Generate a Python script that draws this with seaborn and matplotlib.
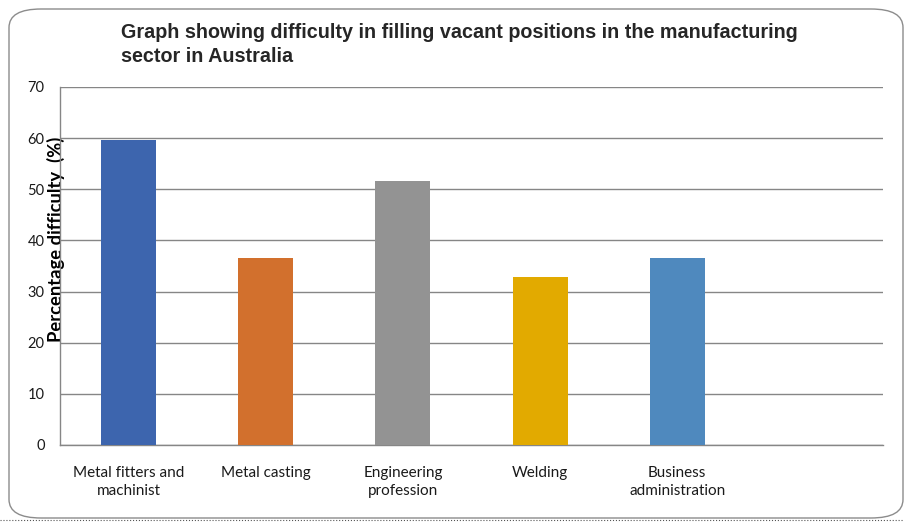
import matplotlib
matplotlib.use('Agg')
import matplotlib.pyplot as plt
import pandas as pd
import seaborn as sns
from matplotlib.patches import FancyBboxPatch
from matplotlib.lines import Line2D

categories = ['Metal fitters and\nmachinist', 'Metal casting', 'Engineering\nprofession',
              'Welding', 'Business\nadministration', '']
values = [59.7, 36.6, 51.6, 32.9, 36.6, float('nan')]
colors = ['#3D65AE', '#D2702D', '#939393', '#E2AA00', '#4F89BE', '#FFFFFF']
yticks = [0, 10, 20, 30, 40, 50, 60, 70]

df = pd.DataFrame({'Categoria': categories, 'Valor': values})

sns.set_style('white')
plt.rcParams['font.family'] = ['Lato', 'DejaVu Sans']

fig = plt.figure(figsize=(9.17, 5.29), dpi=100)
ax = fig.add_axes([60 / 917, 1 - 445 / 529, 823 / 917, 358 / 529])

sns.barplot(data=df, x='Categoria', y='Valor', hue='Categoria', palette=colors,
            order=categories, width=0.4, saturation=1, linewidth=0,
            legend=False, ax=ax, zorder=3)

ax.set_ylim(0, 70)
ax.set_yticks(yticks)
ax.set_xlim(-0.5, len(categories) - 0.5)
ax.grid(axis='y', color='#868686', linewidth=1, zorder=0)
ax.grid(axis='x', visible=False)
for s in ['top', 'right']:
    ax.spines[s].set_visible(False)
for s in ['left', 'bottom']:
    ax.spines[s].set_color('#868686')
    ax.spines[s].set_linewidth(1)
ax.tick_params(axis='both', length=0, colors='#1a1a1a')
ax.tick_params(axis='y', pad=11, labelsize=10.5)
ax.tick_params(axis='x', pad=15, labelsize=11)
for lbl in ax.get_xticklabels():
    lbl.set_linespacing(1.35)
ax.set_xlabel('')
ax.set_ylabel('Percentage difficulty  (%)', fontsize=13.2, fontweight='bold', color='black')
ax.yaxis.set_label_coords(0.006, 0.573)

fig.text(121 / 917, 1 - 23 / 529,
         'Graph showing difficulty in filling vacant positions in the manufacturing\nsector in Australia',
         ha='left', va='top', fontsize=14.2, fontweight='bold', linespacing=1.3,
         family=['Liberation Sans Narrow', 'Liberation Sans', 'DejaVu Sans'])

# borde redondeado del grafico
borde = FancyBboxPatch((9 / 917, 1 - 518 / 529), 894 / 917, 509 / 529,
                       boxstyle='round,pad=0,rounding_size=0.035', transform=fig.transFigure,
                       facecolor='none', edgecolor='#8c8c8c', linewidth=1)
fig.patches.append(borde)
fig.lines.append(Line2D([0, 903 / 917], [1 - 520 / 529] * 2, transform=fig.transFigure,
                        color='#555555', linewidth=0.8, linestyle=':'))

fig.savefig('out.png', dpi=100)
